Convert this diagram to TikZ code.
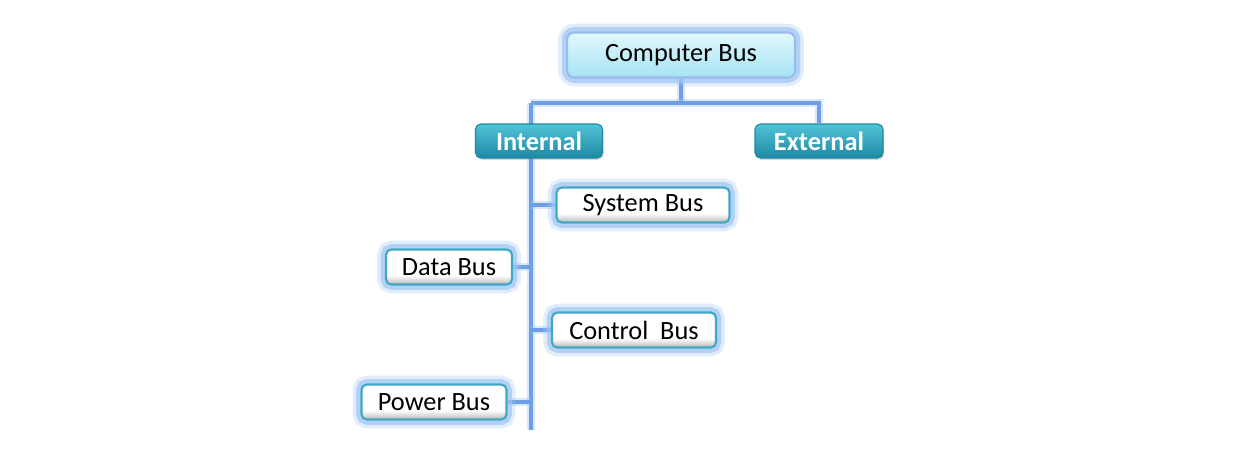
\documentclass[tikz,border=0pt]{standalone}
\usepackage{fontspec}
\setmainfont{Carlito}
\usepackage{xcolor}
\usetikzlibrary{shadows,backgrounds}

\definecolor{busline}{HTML}{6E9FE6}
\definecolor{glowblue}{HTML}{9FC5F3}
\definecolor{tealtop}{HTML}{52C3D8}
\definecolor{tealbot}{HTML}{1E88A3}
\definecolor{tealedge}{HTML}{3FA9C4}
\definecolor{cyantop}{HTML}{E2F8FD}
\definecolor{cyanbot}{HTML}{A6E3F3}

\pgfdeclareverticalshading{leafshade}{100bp}{color(0bp)=(gray!55); color(25bp)=(gray!55);
  color(38bp)=(white); color(100bp)=(white)}

\begin{document}
\begin{tikzpicture}[x=0.02cm, y=-0.02cm,
  glow/.style={preaction={draw=glowblue, line width=10pt, opacity=0.3},
               preaction={draw=glowblue, line width=6pt, opacity=0.7}},
  rootbox/.style={rectangle, rounded corners=4pt, draw=busline!70!white, line width=1.2pt,
    top color=cyantop, bottom color=cyanbot, glow, font=\fontsize{15}{18}\selectfont,
    minimum width=4.56cm, minimum height=0.9cm},
  groupbox/.style={rectangle, rounded corners=3pt, draw=tealbot, line width=0.6pt,
    top color=tealtop, bottom color=tealbot, text=white, font=\fontsize{15}{18}\selectfont\bfseries,
    minimum height=0.68cm, drop shadow={opacity=0.3, shadow xshift=0.6pt, shadow yshift=-1pt}},
  leafbox/.style={rectangle, rounded corners=3pt, draw=tealedge, line width=1.2pt,
    shading=leafshade, glow, font=\fontsize{15}{18}\selectfont, minimum height=0.7cm},
  bus/.style={draw=busline, line width=2.3pt, preaction={draw=glowblue, line width=5pt, opacity=0.4}},
  branch/.style={bus, line width=1.8pt}]

  \useasboundingbox (0,0) rectangle (1251,454);

  % boxes
  \node[rootbox] (root) at (681,55) {Computer Bus};
  \node[groupbox, minimum width=2.54cm] (internal) at (539,141) {Internal};
  \node[groupbox, minimum width=2.56cm] (external) at (819,141) {External};
  \node[leafbox, minimum width=3.46cm] (system) at (643,205) {System Bus};
  \node[leafbox, minimum width=2.52cm] (data) at (449,267) {Data Bus};
  \node[leafbox, minimum width=3.28cm] (control) at (634,330) {Control\ \ Bus};
  \node[leafbox, minimum width=2.90cm] (power) at (434,402) {Power Bus};

  \coordinate (fork) at (531,103);
  \coordinate (trunkend) at (531,430);

  % bus lines
  \begin{scope}[on background layer]
    \draw[bus] (root.south) -- (root.south |- fork);
    \draw[bus] (fork) -- (fork -| external.north) -- (external.north);
    \draw[bus] (fork) -- (trunkend);
    \draw[branch] (system.west) -- (system.west -| trunkend);
    \draw[branch] (data.east) -- (data.east -| trunkend);
    \draw[branch] (control.west) -- (control.west -| trunkend);
    \draw[branch] (power.east) -- (power.east -| trunkend);
  \end{scope}

\end{tikzpicture}
\end{document}
